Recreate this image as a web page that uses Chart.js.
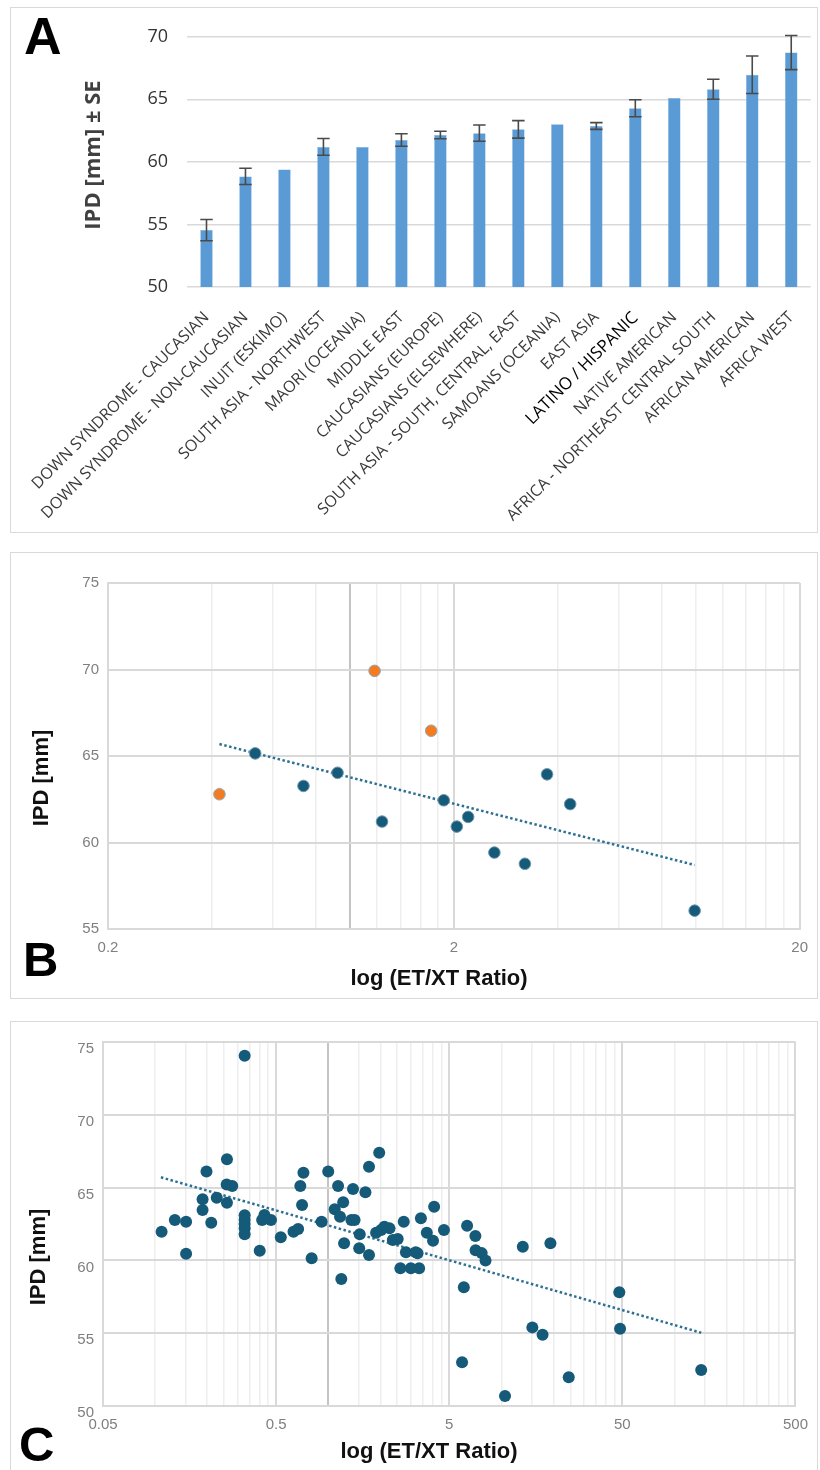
<!DOCTYPE html>
<html>
<head>
<meta charset="utf-8">
<script src="https://cdn.jsdelivr.net/npm/chart.js@4.4.1/dist/chart.umd.min.js"></script>
<style>
	html, body { margin: 0; padding: 0; background: #fff; width: 820px; height: 1470px; overflow: hidden; }
	.frame { position: absolute; box-sizing: border-box; border: 1.5px solid #d9d9d9; }
	canvas { position: absolute; }
	.letter { position: absolute; font-family: "Liberation Sans", Arial, sans-serif; font-weight: bold; line-height: 1; color: #000; }
</style>
</head>
<body>
<div class="frame" style="left:10px;top:7px;width:808px;height:526px;"></div>
<div class="frame" style="left:10px;top:552px;width:808px;height:447px;"></div>
<div class="frame" style="left:10px;top:1021px;width:808px;height:460px;"></div>

<canvas id="chartA" width="808" height="526" style="left:10px;top:7px;"></canvas>
<canvas id="chartB" width="808" height="447" style="left:10px;top:552px;"></canvas>
<canvas id="chartC" width="808" height="449" style="left:10px;top:1021px;"></canvas>

<div class="letter" style="left:24px;top:10px;font-size:52px;">A</div>
<div class="letter" style="left:23px;top:935px;font-size:49px;">B</div>
<div class="letter" style="left:19px;top:1420px;font-size:49px;">C</div>

<script>
// ---- panel A: IPD by population
const categories = [
	"DOWN SYNDROME - CAUCASIAN",
	"DOWN SYNDROME - NON-CAUCASIAN",
	"INUIT (ESKIMO)",
	"SOUTH ASIA - NORTHWEST",
	"MAORI (OCEANIA)",
	"MIDDLE EAST",
	"CAUCASIANS (EUROPE)",
	"CAUCASIANS (ELSEWHERE)",
	"SOUTH ASIA - SOUTH, CENTRAL, EAST",
	"SAMOANS (OCEANIA)",
	"EAST ASIA",
	"LATINO / HISPANIC",
	"NATIVE AMERICAN",
	"AFRICA - NORTHEAST CENTRAL SOUTH",
	"AFRICAN AMERICAN",
	"AFRICA WEST",
];
const ipdMeans = [54.55, 58.84, 59.4, 61.2, 61.2, 61.75, 62.15, 62.3, 62.6, 63.0, 62.87, 64.29, 65.1, 65.81, 66.97, 68.74];
const ipdSE = [0.85, 0.65, null, 0.67, null, 0.5, 0.3, 0.65, 0.7, null, 0.27, 0.68, null, 0.8, 1.5, 1.36];
const aTicks = [50, 55, 60, 65, 70];

// ---- panel B: IPD vs ET/XT ratio (populations)
const bRatioBlue = [0.533, 0.735, 0.922, 1.24, 1.87, 2.04, 2.2, 2.62, 3.21, 3.72, 4.34, 9.94];
const bIpdBlue = [65.15, 63.27, 64.03, 61.21, 62.44, 60.92, 61.48, 59.42, 58.77, 63.94, 62.22, 56.06];
const bRatioOrange = [0.42, 1.18, 1.72];
const bIpdOrange = [62.79, 69.92, 66.46];
const bTrendRatio = [0.42, 9.94];
const bTrendIpd = [65.69, 58.7];
const bTicks = [0.2, 0.4, 0.6, 0.8, 1, 1.2, 1.4, 1.6, 1.8, 2, 4, 6, 8, 10, 12, 14, 16, 18, 20];
const bTickLabels = [0.2, 2, 20];

// ---- panel C: IPD vs ET/XT ratio (individual records)
const cRatio = [
	0.329, 0.26, 0.198, 0.259, 0.279, 0.188, 0.227, 0.26, 0.188, 0.13,
	0.151, 0.211, 0.109, 0.151, 0.329, 0.329, 0.329, 0.329, 0.329, 0.402,
	0.428, 0.415, 0.467, 0.532, 0.63, 0.719, 0.69, 0.706, 0.67, 0.802,
	0.915, 1.0, 1.14, 1.09, 1.22, 1.17, 1.36, 1.42, 1.19, 1.235,
	1.39, 1.52, 1.51, 1.72, 1.64, 1.97, 1.72, 1.89, 2.02, 2.11,
	2.26, 2.36, 2.52, 2.73, 2.81, 3.2, 3.28, 2.61, 3.0, 3.35,
	3.43, 4.09, 3.71, 4.03, 4.66, 6.34, 7.08, 7.1, 7.7, 8.1,
	6.07, 5.93, 13.3, 19.2, 48, 48.5, 15.1, 17.3, 24.5, 10.5,
	142.7,
];
const cIpd = [
	74.06, 66.94, 66.1, 65.22, 65.11, 64.2, 64.31, 63.96, 63.46, 62.78,
	62.66, 62.59, 61.97, 60.46, 63.1, 62.8, 62.5, 62.2, 61.8, 60.67,
	63.12, 62.78, 62.78, 61.59, 61.97, 66.02, 65.11, 63.8, 62.16, 60.14,
	62.66, 66.1, 65.11, 63.51, 63.99, 63.0, 62.78, 62.78, 58.72, 61.17,
	64.9, 61.79, 60.83, 66.44, 64.68, 67.4, 60.37, 61.9, 62.09, 62.31,
	62.2, 61.4, 61.47, 62.66, 60.56, 60.56, 60.49, 59.46, 59.46, 59.46,
	62.89, 63.69, 61.9, 61.35, 62.09, 62.38, 61.68, 60.7, 60.5, 60.0,
	58.15, 53.0, 60.94, 61.17, 57.81, 55.31, 55.4, 54.9, 51.97, 50.69,
	52.47,
];
const cTrendRatio = [0.108, 142.7];
const cTrendIpd = [65.71, 55.03];
const cDecades = [0.05, 0.5, 5, 50, 500];

const blueBar = "#5b9bd5";
const teal = "#165a7a";
const orange = "#f47b20";
const trendColor = "#2c7193";

const toPoints = (xs, ys) => xs.map((x, i) => ({ x: x, y: ys[i] }));

// log-axis ticks: every multiple of the decade start inside each decade
const cTicks = [];
cDecades.slice(0, -1).forEach((start) => {
	for (let k = 1; k < 10; k++) cTicks.push(start * k);
});
cTicks.push(cDecades[cDecades.length - 1]);

const near = (a, b) => Math.abs(a - b) <= Math.abs(b) * 1e-6;

const logGridColor = (majors) => (context) => {
	const v = context.tick.value;
	if (near(v, 1)) return "#c4c4c4";
	if (majors.some((m) => near(v, m))) return "#d9d9d9";
	return "#eeeeee";
};
const logGridWidth = (majors) => (context) => {
	const v = context.tick.value;
	if (near(v, 1) || majors.some((m) => near(v, m))) return 2;
	return 1.5;
};

// free-standing captions (axis titles) at fixed spots
const captionPlugin = {
	id: "captions",
	afterDraw(chart, args, opts) {
		const ctx = chart.ctx;
		(opts.items || []).forEach((item) => {
			ctx.save();
			ctx.font = item.font;
			ctx.fillStyle = item.color;
			ctx.textAlign = "center";
			ctx.textBaseline = "middle";
			ctx.translate(item.x, item.y);
			if (item.rotate) ctx.rotate(-Math.PI / 2);
			ctx.fillText(item.text, 0, 0);
			ctx.restore();
		});
	},
};

const errorBarPlugin = {
	id: "errorBars",
	afterDatasetsDraw(chart) {
		const ctx = chart.ctx;
		const y = chart.scales.y;
		const meta = chart.getDatasetMeta(0);
		ctx.save();
		ctx.strokeStyle = "#4a4a4a";
		ctx.lineWidth = 1.6;
		meta.data.forEach((bar, i) => {
			const se = ipdSE[i];
			if (se === null) return;
			const top = y.getPixelForValue(ipdMeans[i] + se);
			const bottom = y.getPixelForValue(ipdMeans[i] - se);
			const half = bar.width / 2;
			ctx.beginPath();
			ctx.moveTo(bar.x, top);
			ctx.lineTo(bar.x, bottom);
			ctx.moveTo(bar.x - half, top);
			ctx.lineTo(bar.x + half, top);
			ctx.moveTo(bar.x - half, bottom);
			ctx.lineTo(bar.x + half, bottom);
			ctx.stroke();
		});
		ctx.restore();
	},
};

Chart.defaults.animation = false;
Chart.defaults.font.family = "'Liberation Sans', Arial, sans-serif";

// ---------------- chart A
new Chart(document.getElementById("chartA"), {
	type: "bar",
	data: {
		labels: categories,
		datasets: [
			{
				data: ipdMeans,
				backgroundColor: blueBar,
				borderColor: "#6fa8dc",
				borderWidth: 0.5,
				barPercentage: 0.8,
				categoryPercentage: 0.4,
			},
		],
	},
	options: {
		responsive: false,
		layout: { padding: { top: 29, right: 6, bottom: 0, left: 0 } },
		scales: {
			x: {
				grid: { display: false },
				border: { display: false },
				ticks: {
					minRotation: 45,
					maxRotation: 45,
					autoSkip: false,
					padding: 13,
					color: (c) => (c.index === 11 ? "#000" : "#3a3a3a"),
					font: (c) => ({ family: "'Open Sans', sans-serif", size: c.index === 11 ? 17 : 16 }),
				},
				afterFit: (scale) => {
					scale.height = 246;
				},
			},
			y: {
				min: 50,
				max: 70,
				afterBuildTicks: (scale) => {
					scale.ticks = aTicks.map((v) => ({ value: v }));
				},
				grid: { color: "#d9d9d9", lineWidth: 1.5, drawTicks: false },
				border: { display: false },
				ticks: {
					padding: 19,
					color: "#333",
					font: { family: "'Open Sans', sans-serif", size: 18 },
				},
				afterFit: (scale) => {
					scale.width = 177;
				},
			},
		},
		plugins: {
			legend: { display: false },
			tooltip: { enabled: false },
			captions: {
				items: [
					{ text: "IPD [mm] \u00b1 SE", x: 84, y: 148, rotate: true, font: "bold 22px 'Open Sans', sans-serif", color: "#404040" },
				],
			},
		},
	},
	plugins: [errorBarPlugin, captionPlugin],
});

// ---------------- scatter helper for B and C
const scatterConfig = (datasets, xOpts, yOpts, pad, xHeight, yWidth, captions) => {
	return {
		type: "scatter",
		data: { datasets: datasets },
		options: {
			responsive: false,
			layout: { padding: pad },
			scales: {
				x: {
					type: "logarithmic",
					min: xOpts.min,
					max: xOpts.max,
					afterBuildTicks: (scale) => {
						scale.ticks = xOpts.ticks.map((v) => ({ value: v }));
					},
					grid: { color: logGridColor(xOpts.majors), lineWidth: logGridWidth(xOpts.majors), drawTicks: false },
					border: { color: "#d9d9d9", width: 2 },
					ticks: {
						autoSkip: false,
						maxRotation: 0,
						padding: xOpts.padding,
						color: "#7f7f7f",
						font: { size: 15 },
						callback: (value) => (xOpts.labels.some((m) => near(value, m)) ? String(value) : ""),
					},
					afterFit: (scale) => {
						scale.height = xHeight;
					},
				},
				y: {
					min: yOpts.min,
					max: yOpts.max,
					afterBuildTicks: (scale) => {
						scale.ticks = yOpts.ticks.map((v) => ({ value: v }));
					},
					grid: { color: "#d9d9d9", lineWidth: 2, drawTicks: false },
					border: { color: "#d9d9d9", width: 2 },
					ticks: {
						padding: yOpts.padding,
						labelOffset: yOpts.labelOffset,
						color: "#7f7f7f",
						font: { size: 15 },
					},
					afterFit: (scale) => {
						scale.width = yWidth;
					},
				},
			},
			plugins: {
				legend: { display: false },
				tooltip: { enabled: false },
				captions: { items: captions },
			},
		},
		plugins: [captionPlugin],
	};
};

const trendDataset = (xs, ys) => ({
	type: "line",
	data: toPoints(xs, ys),
	borderColor: trendColor,
	borderWidth: 2.5,
	borderDash: [2.5, 2.5],
	pointRadius: 0,
	order: 3,
});

const titleFont = "bold 22px 'Liberation Sans', Arial, sans-serif";

// ---------------- chart B
new Chart(
	document.getElementById("chartB"),
	scatterConfig(
		[
			trendDataset(bTrendRatio, bTrendIpd),
			{
				data: toPoints(bRatioBlue, bIpdBlue),
				backgroundColor: teal,
				borderColor: "#6f97ad",
				borderWidth: 1,
				pointRadius: 5.8,
				order: 1,
			},
			{
				data: toPoints(bRatioOrange, bIpdOrange),
				backgroundColor: orange,
				borderColor: "#8fa9b8",
				borderWidth: 1,
				pointRadius: 5.8,
				order: 1,
			},
		],
		{ min: 0.2, max: 20, ticks: bTicks, majors: bTickLabels, labels: bTickLabels, padding: 10 },
		{ min: 55, max: 75, ticks: [55, 60, 65, 70, 75], padding: 9, labelOffset: 0 },
		{ top: 31, right: 14, bottom: 0, left: 0 },
		70,
		98,
		[
			{ text: "IPD [mm]", x: 32, y: 226, rotate: true, font: titleFont, color: "#111" },
			{ text: "log (ET/XT Ratio)", x: 429, y: 427, rotate: false, font: titleFont, color: "#111" },
		]
	)
);

// ---------------- chart C
new Chart(
	document.getElementById("chartC"),
	scatterConfig(
		[
			trendDataset(cTrendRatio, cTrendIpd),
			{
				data: toPoints(cRatio, cIpd),
				backgroundColor: teal,
				borderColor: teal,
				borderWidth: 0,
				pointRadius: 6,
				order: 1,
			},
		],
		{ min: 0.05, max: 500, ticks: cTicks, majors: cDecades, labels: cDecades, padding: 10 },
		{ min: 50, max: 75, ticks: [50, 55, 60, 65, 70, 75], padding: 9, labelOffset: 7 },
		{ top: 21, right: 17, bottom: 0, left: 0 },
		64,
		93,
		[
			{ text: "IPD [mm]", x: 29, y: 236, rotate: true, font: titleFont, color: "#111" },
			{ text: "log (ET/XT Ratio)", x: 419, y: 431, rotate: false, font: titleFont, color: "#111" },
		]
	)
);
</script>
</body>
</html>
